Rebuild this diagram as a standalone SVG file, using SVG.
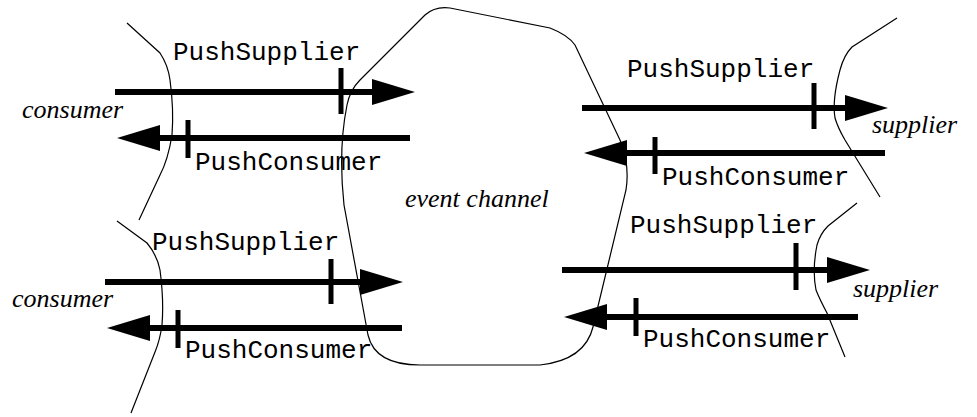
<svg xmlns="http://www.w3.org/2000/svg" width="977" height="417" viewBox="0 0 977 417">
<style>
.bd{fill:none;stroke:#000;stroke-width:1.2}
.ar{fill:none;stroke:#000;stroke-width:6;marker-end:url(#ah)}
.tk{stroke:#000;stroke-width:5}
.mono{font-family:"Liberation Mono","Courier New",monospace;font-size:26px;fill:#000}
.it{font-family:"Liberation Serif","Times New Roman",serif;font-style:italic;font-size:26px;fill:#000}
</style>
<defs>
<marker id="ah" viewBox="0 -13 43 26" refX="0" refY="0" markerWidth="43" markerHeight="26" markerUnits="userSpaceOnUse" orient="auto">
<path d="M0,-13 L43,0 L0,13 Z" fill="#000"/>
</marker>
</defs>
<rect width="977" height="417" fill="#fff"/>
<g id="event-channel">
<path class="bd" d="M425,15 Q435,6 450,8 L550,28 Q568,35 575,45 L620,140 Q630,165 626,190 L593,327 Q585,360 540,365 L420,365 Q375,365 368,335 L344,205 Q338,150 347,105 Q350,90 360,80 Z"/>
<text class="it" x="405" y="207">event channel</text>
</g>
<g id="consumer-top">
<path class="bd" d="M127,23 L160,53 Q168,65 170,80 Q174,110 172,135 Q168,160 160,175 L139,220"/>
<text class="it" x="22" y="118">consumer</text>
</g>
<g id="consumer-bottom">
<path class="bd" d="M117,221 L147,243 Q157,255 160,270 Q164,300 162,325 Q160,340 155,352 L131,413"/>
<text class="it" x="12" y="307">consumer</text>
</g>
<g id="supplier-top">
<path class="bd" d="M897,18 L852,47 Q844,55 840,70 Q832,100 835,118 Q838,128 845,140 L880,197"/>
<text class="it" x="872" y="133">supplier</text>
</g>
<g id="supplier-bottom">
<path class="bd" d="M857,203 L828,226 Q820,234 817,245 Q812,270 816,290 Q820,300 827,313 L845,357"/>
<text class="it" x="853" y="297">supplier</text>
</g>
<g id="connectors">
<path class="ar" d="M115,92 H372"/>
<line class="tk" x1="341" y1="68" x2="341" y2="114"/>
<text class="mono" x="173" y="60">PushSupplier</text>
<path class="ar" d="M410,138 H160"/>
<line class="tk" x1="188" y1="120" x2="188" y2="158"/>
<text class="mono" x="195" y="170">PushConsumer</text>

<path class="ar" d="M105,282 H360"/>
<line class="tk" x1="331" y1="259" x2="331" y2="304"/>
<text class="mono" x="152" y="250">PushSupplier</text>
<path class="ar" d="M402,328 H150"/>
<line class="tk" x1="178" y1="310" x2="178" y2="348"/>
<text class="mono" x="185" y="358">PushConsumer</text>

<path class="ar" d="M582,108 H845"/>
<line class="tk" x1="814" y1="83" x2="814" y2="129"/>
<text class="mono" x="627" y="77">PushSupplier</text>
<path class="ar" d="M885,153 H627"/>
<line class="tk" x1="655" y1="137" x2="655" y2="174"/>
<text class="mono" x="662" y="185">PushConsumer</text>

<path class="ar" d="M562,270 H827"/>
<line class="tk" x1="796" y1="243" x2="796" y2="290"/>
<text class="mono" x="630" y="233">PushSupplier</text>
<path class="ar" d="M858,317 H607"/>
<line class="tk" x1="636" y1="298" x2="636" y2="336"/>
<text class="mono" x="643" y="347">PushConsumer</text>
</g>
</svg>
